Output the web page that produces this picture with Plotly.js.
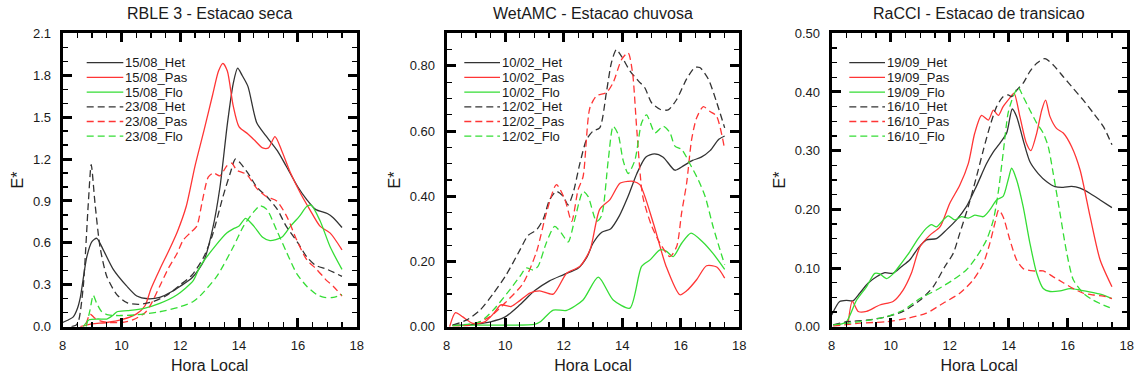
<!DOCTYPE html>
<html>
<head>
<meta charset="utf-8">
<script src="https://cdn.plot.ly/plotly-3.0.1.min.js"></script>
<style>
  html, body { margin: 0; padding: 0; background: #fff; }
  #chart { width: 1135px; height: 382px; }
</style>
</head>
<body>
<div id="chart"></div>
<script>
// ---- Panel titles and axis text ----
const panelTitles = ['RBLE 3 - Estacao seca', 'WetAMC - Estacao chuvosa', 'RaCCI - Estacao de transicao'];
const xTitle = 'Hora Local';
const yTitle = 'E*';
const xTickVals = [8, 10, 12, 14, 16, 18];
const yTickVals1 = [0, 0.3, 0.6, 0.9, 1.2, 1.5, 1.8, 2.1];
const yTickText1 = ['0.0', '0.3', '0.6', '0.9', '1.2', '1.5', '1.8', '2.1'];
const yTickVals2 = [0, 0.2, 0.4, 0.6, 0.8];
const yTickText2 = ['0.00', '0.20', '0.40', '0.60', '0.80'];
const yTickVals3 = [0, 0.1, 0.2, 0.3, 0.4, 0.5];
const yTickText3 = ['0.00', '0.10', '0.20', '0.30', '0.40', '0.50'];

// ---- Panel 1: RBLE 3, dry season ----
const labels1 = ['15/08_Het', '15/08_Pas', '15/08_Flo', '23/08_Het', '23/08_Pas', '23/08_Flo'];
const het1508_h = [8.0, 8.2, 8.36, 8.5, 8.6, 8.82, 9.0, 9.16, 9.38, 9.72, 10.18, 10.52, 10.9, 11.3, 11.7, 12.0, 12.4, 12.8, 13.1, 13.35, 13.6, 13.8, 13.95, 14.1, 14.3, 14.6, 14.9, 15.3, 15.6, 16.0, 16.3, 16.6, 17.0, 17.2, 17.5];
const het1508_e = [0.03, 0.05, 0.07, 0.13, 0.21, 0.5, 0.61, 0.633, 0.55, 0.41, 0.29, 0.22, 0.2, 0.21, 0.25, 0.29, 0.35, 0.47, 0.7, 1.0, 1.45, 1.74, 1.85, 1.8, 1.72, 1.46, 1.37, 1.26, 1.15, 1.0, 0.91, 0.84, 0.81, 0.78, 0.71];
const pas1508_h = [8.6, 9.0, 9.5, 10.0, 10.5, 10.8, 11.0, 11.3, 11.6, 11.9, 12.2, 12.5, 12.8, 13.1, 13.3, 13.45, 13.6, 13.8, 14.0, 14.3, 14.5, 14.8, 15.0, 15.22, 15.45, 15.75, 16.1, 16.4, 16.75, 17.1, 17.5];
const pas1508_e = [0.0, 0.02, 0.03, 0.05, 0.09, 0.15, 0.27, 0.41, 0.54, 0.68, 0.86, 1.15, 1.4, 1.66, 1.83, 1.885, 1.83, 1.58, 1.43, 1.38, 1.34, 1.28, 1.28, 1.36, 1.26, 1.1, 0.95, 0.84, 0.72, 0.67, 0.55];
const flo1508_h = [8.7, 8.9, 9.2, 9.5, 9.7, 9.85, 10.2, 10.74, 11.3, 11.88, 12.44, 12.67, 13.2, 13.58, 13.8, 14.0, 14.22, 14.5, 14.8, 15.05, 15.45, 15.75, 16.05, 16.3, 16.45, 16.75, 17.1, 17.5];
const flo1508_e = [0.0, 0.05, 0.055, 0.055, 0.08, 0.107, 0.115, 0.13, 0.167, 0.227, 0.33, 0.43, 0.58, 0.67, 0.7, 0.72, 0.776, 0.72, 0.64, 0.616, 0.64, 0.72, 0.79, 0.86, 0.87, 0.76, 0.57, 0.41];
const het2308_h = [8.3, 8.45, 8.55, 8.7, 8.87, 8.97, 9.1, 9.27, 9.5, 9.84, 10.2, 10.6, 11.0, 11.5, 12.0, 12.4, 12.8, 13.1, 13.45, 13.7, 13.87, 14.0, 14.3, 14.6, 14.95, 15.3, 15.6, 16.0, 16.3, 16.6, 17.0, 17.5];
const het2308_e = [0.0, 0.01, 0.05, 0.29, 0.88, 1.16, 0.88, 0.57, 0.36, 0.23, 0.17, 0.16, 0.175, 0.22, 0.3, 0.37, 0.5, 0.66, 0.93, 1.1, 1.2, 1.18, 1.1, 1.0, 0.93, 0.84, 0.72, 0.6, 0.5, 0.44, 0.41, 0.36];
const pas2308_h = [8.8, 8.93, 9.1, 9.3, 9.6, 10.0, 10.4, 10.8, 11.0, 11.3, 11.6, 11.88, 12.1, 12.33, 12.56, 12.75, 12.95, 13.12, 13.35, 13.58, 13.75, 13.92, 14.26, 14.6, 14.94, 15.28, 15.62, 15.96, 16.3, 16.64, 16.98, 17.2, 17.5];
const pas2308_e = [0.02, 0.09, 0.06, 0.04, 0.03, 0.03, 0.05, 0.1, 0.16, 0.29, 0.42, 0.52, 0.62, 0.67, 0.72, 0.9, 1.07, 1.1, 1.08, 1.15, 1.17, 1.12, 1.09, 0.99, 0.93, 0.9, 0.79, 0.62, 0.48, 0.41, 0.33, 0.29, 0.22];
const flo2308_h = [8.8, 8.93, 9.04, 9.15, 9.33, 9.55, 10.0, 10.5, 11.3, 12.0, 12.44, 12.67, 13.24, 13.8, 14.15, 14.49, 14.71, 14.94, 15.28, 15.62, 15.96, 16.3, 16.64, 16.9, 17.2, 17.5];
const flo2308_e = [0.0, 0.12, 0.225, 0.17, 0.107, 0.084, 0.08, 0.085, 0.107, 0.143, 0.18, 0.22, 0.36, 0.57, 0.72, 0.82, 0.865, 0.84, 0.69, 0.53, 0.38, 0.29, 0.23, 0.21, 0.21, 0.23];

// ---- Panel 2: WetAMC, wet season ----
const labels2 = ['10/02_Het', '10/02_Pas', '10/02_Flo', '12/02_Het', '12/02_Pas', '12/02_Flo'];
const het1002_h = [8.2, 8.6, 9.0, 9.5, 10.0, 10.5, 11.0, 11.5, 12.0, 12.5, 12.8, 13.0, 13.3, 13.6, 13.9, 14.2, 14.5, 14.8, 15.1, 15.4, 15.8, 16.1, 16.4, 16.7, 17.0, 17.3, 17.5];
const het1002_e = [0.005, 0.005, 0.008, 0.015, 0.03, 0.067, 0.11, 0.14, 0.16, 0.18, 0.215, 0.256, 0.29, 0.3, 0.34, 0.4, 0.47, 0.52, 0.53, 0.52, 0.48, 0.494, 0.51, 0.52, 0.54, 0.575, 0.585];
const pas1002_h = [8.1, 8.3, 8.55, 8.9, 9.3, 9.6, 9.85, 10.2, 10.5, 10.84, 11.18, 11.64, 12.1, 12.55, 12.9, 13.23, 13.58, 13.92, 14.2, 14.37, 14.6, 15.06, 15.5, 15.97, 16.2, 16.54, 16.88, 17.23, 17.5];
const pas1002_e = [0.0, 0.043, 0.03, 0.01, 0.015, 0.04, 0.067, 0.062, 0.08, 0.103, 0.11, 0.1, 0.164, 0.185, 0.236, 0.36, 0.39, 0.44, 0.446, 0.446, 0.436, 0.318, 0.185, 0.098, 0.11, 0.144, 0.187, 0.183, 0.149];
const flo1002_h = [8.2, 9.0, 10.0, 11.0, 11.2, 11.64, 12.1, 12.66, 13.18, 13.69, 14.26, 14.66, 14.95, 15.29, 15.5, 15.74, 16.03, 16.35, 16.75, 17.1, 17.5];
const flo1002_e = [0.003, 0.005, 0.005, 0.007, 0.015, 0.051, 0.05, 0.082, 0.152, 0.082, 0.057, 0.185, 0.205, 0.236, 0.232, 0.215, 0.256, 0.287, 0.26, 0.225, 0.176];
const het1202_h = [8.2, 8.67, 9.13, 9.58, 10.04, 10.5, 10.78, 11.07, 11.3, 11.52, 11.75, 11.98, 12.15, 12.32, 12.55, 12.78, 13.0, 13.23, 13.46, 13.63, 13.8, 13.97, 14.26, 14.55, 14.77, 15.0, 15.29, 15.57, 15.86, 16.2, 16.48, 16.65, 16.94, 17.22, 17.5];
const het1202_e = [0.005, 0.02, 0.05, 0.1, 0.16, 0.235, 0.28, 0.297, 0.33, 0.39, 0.415, 0.4, 0.374, 0.41, 0.5, 0.574, 0.6, 0.61, 0.72, 0.81, 0.85, 0.83, 0.785, 0.754, 0.733, 0.687, 0.667, 0.665, 0.697, 0.76, 0.795, 0.795, 0.76, 0.69, 0.61];
const pas1202_h = [8.2, 8.8, 9.47, 10.04, 10.61, 11.07, 11.41, 11.75, 12.04, 12.27, 12.49, 12.66, 12.89, 13.12, 13.46, 13.69, 13.98, 14.2, 14.35, 14.5, 14.7, 15.0, 15.29, 15.63, 15.86, 16.03, 16.2, 16.37, 16.54, 16.77, 17.0, 17.22, 17.5];
const pas1202_e = [0.003, 0.005, 0.03, 0.077, 0.133, 0.23, 0.35, 0.436, 0.39, 0.323, 0.42, 0.46, 0.67, 0.708, 0.718, 0.749, 0.82, 0.84, 0.78, 0.6, 0.4, 0.31, 0.256, 0.215, 0.246, 0.35, 0.44, 0.574, 0.64, 0.675, 0.66, 0.646, 0.544];
const flo1202_h = [8.2, 9.13, 9.58, 10.04, 10.5, 10.72, 10.95, 11.12, 11.4, 11.69, 11.92, 12.15, 12.38, 12.66, 12.83, 13.12, 13.29, 13.52, 13.69, 13.86, 14.03, 14.2, 14.43, 14.66, 14.83, 15.12, 15.4, 15.63, 15.8, 16.03, 16.31, 16.6, 16.83, 17.1, 17.34, 17.5];
const flo1202_e = [0.003, 0.015, 0.05, 0.1, 0.154, 0.18, 0.174, 0.185, 0.256, 0.308, 0.287, 0.26, 0.33, 0.415, 0.4, 0.323, 0.34, 0.51, 0.615, 0.59, 0.51, 0.47, 0.51, 0.625, 0.65, 0.595, 0.615, 0.595, 0.554, 0.544, 0.5, 0.45, 0.4, 0.308, 0.236, 0.19];

// ---- Panel 3: RaCCI, transition season ----
const labels3 = ['19/09_Het', '19/09_Pas', '19/09_Flo', '16/10_Het', '16/10_Pas', '16/10_Flo'];
const het1909_h = [8.0, 8.27, 8.5, 8.72, 8.95, 9.23, 9.52, 9.8, 10.08, 10.36, 10.65, 10.93, 11.21, 11.55, 11.89, 12.23, 12.57, 12.91, 13.25, 13.48, 13.7, 13.93, 14.12, 14.27, 14.49, 14.72, 15.0, 15.29, 15.57, 15.85, 16.13, 16.42, 16.76, 17.1, 17.5];
const het1909_e = [0.02, 0.043, 0.045, 0.044, 0.057, 0.074, 0.085, 0.092, 0.091, 0.102, 0.114, 0.134, 0.148, 0.15, 0.165, 0.182, 0.205, 0.24, 0.278, 0.298, 0.3125, 0.33, 0.371, 0.358, 0.318, 0.281, 0.261, 0.247, 0.2386, 0.2375, 0.239, 0.236, 0.227, 0.216, 0.203];
const pas1909_h = [8.55, 8.7, 8.9, 9.18, 9.63, 10.08, 10.42, 10.7, 10.99, 11.33, 11.67, 12.0, 12.34, 12.63, 12.85, 13.08, 13.31, 13.48, 13.65, 13.81, 14.04, 14.18, 14.38, 14.6, 14.75, 14.95, 15.12, 15.25, 15.4, 15.62, 15.85, 16.13, 16.42, 16.76, 17.1, 17.5];
const pas1909_e = [0.003, 0.043, 0.026, 0.026, 0.037, 0.043, 0.0625, 0.091, 0.136, 0.156, 0.17, 0.21, 0.241, 0.278, 0.33, 0.36, 0.352, 0.369, 0.36, 0.375, 0.39, 0.398, 0.358, 0.3125, 0.3, 0.33, 0.369, 0.386, 0.358, 0.338, 0.33, 0.307, 0.267, 0.1875, 0.1136, 0.068];
const flo1909_h = [8.2, 8.5, 8.84, 9.18, 9.46, 9.63, 9.86, 10.08, 10.36, 10.65, 10.93, 11.21, 11.38, 11.55, 11.78, 11.95, 12.17, 12.4, 12.63, 12.85, 13.14, 13.36, 13.59, 13.81, 13.98, 14.1, 14.27, 14.49, 14.72, 14.95, 15.17, 15.4, 15.74, 16.08, 16.42, 16.87, 17.21, 17.5];
const flo1909_e = [0.003, 0.0085, 0.045, 0.068, 0.091, 0.09, 0.082, 0.09, 0.108, 0.128, 0.15, 0.168, 0.174, 0.17, 0.182, 0.189, 0.182, 0.1875, 0.185, 0.19, 0.1875, 0.199, 0.216, 0.222, 0.25, 0.27, 0.25, 0.2045, 0.142, 0.091, 0.065, 0.06, 0.061, 0.065, 0.0625, 0.058, 0.054, 0.048];
const het1610_h = [8.05, 8.5, 9.18, 9.86, 10.42, 10.99, 11.44, 11.83, 12.12, 12.34, 12.63, 12.91, 13.14, 13.36, 13.59, 13.81, 13.98, 14.1, 14.27, 14.49, 14.72, 14.95, 15.23, 15.51, 15.85, 16.19, 16.53, 16.87, 17.21, 17.5];
const het1610_e = [0.003, 0.0085, 0.011, 0.017, 0.026, 0.045, 0.068, 0.102, 0.125, 0.159, 0.205, 0.256, 0.301, 0.341, 0.375, 0.392, 0.395, 0.392, 0.403, 0.415, 0.435, 0.449, 0.457, 0.446, 0.426, 0.406, 0.386, 0.364, 0.341, 0.31];
const pas1610_h = [8.05, 8.95, 9.86, 10.53, 11.21, 11.78, 12.34, 12.8, 13.14, 13.36, 13.53, 13.66, 13.81, 14.04, 14.27, 14.49, 14.83, 15.17, 15.51, 15.85, 16.19, 16.53, 16.87, 17.21, 17.5];
const pas1610_e = [0.001, 0.006, 0.0085, 0.014, 0.023, 0.04, 0.057, 0.08, 0.108, 0.142, 0.176, 0.199, 0.1875, 0.148, 0.1136, 0.099, 0.095, 0.095, 0.085, 0.075, 0.065, 0.057, 0.054, 0.052, 0.048];
const flo1610_h = [8.05, 8.95, 9.86, 10.42, 10.99, 11.55, 12.12, 12.57, 12.91, 13.25, 13.48, 13.64, 13.81, 13.98, 14.15, 14.32, 14.49, 14.72, 14.95, 15.17, 15.34, 15.51, 15.74, 15.97, 16.19, 16.53, 16.87, 17.21, 17.5];
const flo1610_e = [0.003, 0.0085, 0.017, 0.028, 0.048, 0.0625, 0.08, 0.097, 0.119, 0.148, 0.182, 0.227, 0.295, 0.364, 0.392, 0.408, 0.392, 0.369, 0.347, 0.33, 0.307, 0.261, 0.193, 0.125, 0.08, 0.057, 0.045, 0.037, 0.031];

// ---- Styling ----
const W = 1135, H = 382;
const FONT = 'Liberation Sans, Arial, Helvetica, sans-serif';
const INK = '#1a1a1a';
const lineColors = ['#333333', '#ff3535', '#35dd35'];   // Het, Pas, Flo
const lineDashes = ['solid', 'solid', 'solid', '7px,4px', '7px,4px', '7px,4px'];
// plot boxes in pixels: [left, right]
const boxX = [[62.7, 356.7], [446.7, 739.3], [831.7, 1126.7]];
const boxTop = 33.3, boxBottom = 326.7;
const legendLine = [[86.7, 123.3], [464.3, 500], [849.3, 885]];
const legendRow0 = 62.7, legendStep = 14.7;

const px = x => x / W;
const py = y => 1 - y / H;

const panels = [
  { labels: labels1, series: [[het1508_h, het1508_e], [pas1508_h, pas1508_e], [flo1508_h, flo1508_e], [het2308_h, het2308_e], [pas2308_h, pas2308_e], [flo2308_h, flo2308_e]] },
  { labels: labels2, series: [[het1002_h, het1002_e], [pas1002_h, pas1002_e], [flo1002_h, flo1002_e], [het1202_h, het1202_e], [pas1202_h, pas1202_e], [flo1202_h, flo1202_e]] },
  { labels: labels3, series: [[het1909_h, het1909_e], [pas1909_h, pas1909_e], [flo1909_h, flo1909_e], [het1610_h, het1610_e], [pas1610_h, pas1610_e], [flo1610_h, flo1610_e]] }
];

const traces = [];
const shapes = [];
const annotations = [];

panels.forEach((p, k) => {
  const sfx = k === 0 ? '' : String(k + 1);
  p.series.forEach((s, i) => {
    const style = { color: lineColors[i % 3], width: 1.3, dash: lineDashes[i], shape: 'spline', smoothing: 0.7 };
    traces.push({
      type: 'scatter', mode: 'lines', name: p.labels[i],
      x: s[0], y: s[1], xaxis: 'x' + sfx, yaxis: 'y' + sfx,
      line: style, showlegend: false, hoverinfo: 'skip'
    });
    // in-plot key: line sample + label
    const yRow = py(legendRow0 + i * legendStep);
    shapes.push({
      type: 'line', xref: 'paper', yref: 'paper',
      x0: px(legendLine[k][0]), x1: px(legendLine[k][1]), y0: yRow, y1: yRow,
      line: { color: style.color, width: 1.3, dash: style.dash }
    });
    annotations.push({
      xref: 'paper', yref: 'paper', x: px(legendLine[k][1]), y: yRow,
      xanchor: 'left', yanchor: 'middle', showarrow: false,
      text: p.labels[i], font: { family: FONT, size: 13, color: INK }
    });
  });
  annotations.push({
    xref: 'paper', yref: 'paper', x: px((boxX[k][0] + boxX[k][1]) / 2), y: py(13),
    xanchor: 'center', yanchor: 'middle', showarrow: false,
    text: panelTitles[k], font: { family: FONT, size: 16, color: INK }
  });
});

function xAxis(k) {
  return {
    domain: [px(boxX[k][0]), px(boxX[k][1])],
    anchor: k === 0 ? 'y' : 'y' + (k + 1),
    range: [8, 18], tickmode: 'array', tickvals: xTickVals,
    ticks: 'inside', ticklen: 9, tickwidth: 3, tickcolor: '#000',
    minor: { dtick: 0.5, tick0: 8, ticks: 'inside', ticklen: 5, tickwidth: 1.3, tickcolor: '#000', showgrid: false },
    showline: true, linewidth: 3, linecolor: '#000', mirror: 'allticks',
    showgrid: false, zeroline: false, ticklabelstandoff: 5,
    tickfont: { family: FONT, size: 13, color: INK },
    title: { text: xTitle, font: { family: FONT, size: 16, color: INK }, standoff: 8 }
  };
}
function yAxis(k, range, vals, text, minorStep) {
  return {
    domain: [py(boxBottom), py(boxTop)],
    anchor: k === 0 ? 'x' : 'x' + (k + 1),
    range: range, tickmode: 'array', tickvals: vals, ticktext: text,
    ticks: 'inside', ticklen: 9, tickwidth: 3, tickcolor: '#000',
    minor: { dtick: minorStep, tick0: 0, ticks: 'inside', ticklen: 5, tickwidth: 1.3, tickcolor: '#000', showgrid: false },
    showline: true, linewidth: 3, linecolor: '#000', mirror: 'allticks',
    showgrid: false, zeroline: false, ticklabelstandoff: 6,
    tickfont: { family: FONT, size: 13, color: INK },
    title: { text: yTitle, font: { family: FONT, size: 16, color: INK }, standoff: 6 }
  };
}

const layout = {
  width: W, height: H,
  margin: { l: 0, r: 0, t: 0, b: 0 },
  paper_bgcolor: '#fff', plot_bgcolor: '#fff',
  showlegend: false,
  xaxis: xAxis(0), xaxis2: xAxis(1), xaxis3: xAxis(2),
  yaxis: yAxis(0, [0, 2.1], yTickVals1, yTickText1, 0.1),
  yaxis2: yAxis(1, [0, 0.9], yTickVals2, yTickText2, 0.05),
  yaxis3: yAxis(2, [0, 0.5], yTickVals3, yTickText3, 0.025),
  shapes: shapes,
  annotations: annotations
};

Plotly.newPlot('chart', traces, layout, { displayModeBar: false, staticPlot: true });
</script>
</body>
</html>
